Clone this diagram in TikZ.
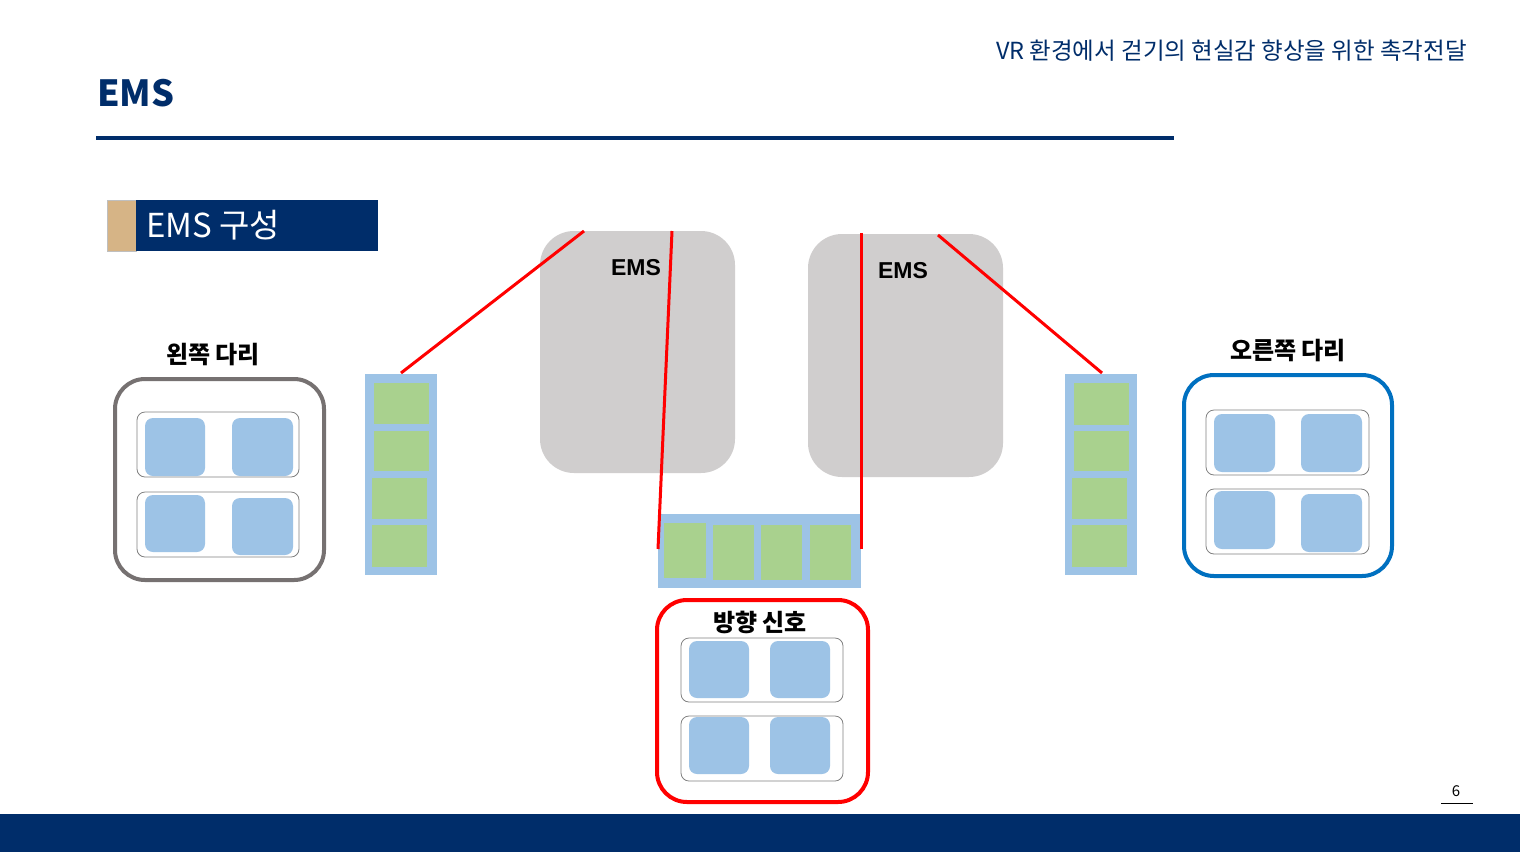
\documentclass[tikz,border=0pt]{standalone}
\usepackage{fontspec}
\setmainfont{Noto Sans CJK KR}
\newfontfamily\arialf{Liberation Sans}
\definecolor{navy}{RGB}{0,45,106}
\definecolor{tan}{RGB}{214,180,134}
\definecolor{lblue}{RGB}{157,195,230}
\definecolor{lgreen}{RGB}{169,209,142}
\definecolor{emsgray}{RGB}{208,206,206}
\definecolor{leggray}{RGB}{118,113,113}
\definecolor{legblue}{RGB}{0,112,192}
\definecolor{innergray}{RGB}{128,128,128}
\tikzset{
  wh/.style 2 args={minimum width=#1pt, minimum height=#2pt},
  box/.style={anchor=north west, inner sep=0pt, outer sep=0pt},
  strip/.style={box, fill=lblue},
  pad/.style={box, fill=lgreen},
  sq/.style={box, fill=lblue, rounded corners=8pt},
  inner/.style={box, draw=innergray, line width=0.8pt, rounded corners=8pt},
  emsbox/.style={box, fill=emsgray, rounded corners=34pt},
  leg/.style={box, line width=4pt, rounded corners=30pt},
  wire/.style={red, line width=3pt},
  lbl/.style={font=\bfseries\fontsize{24}{26}\selectfont, text=black},
  emslbl/.style={font=\arialf\bfseries\fontsize{23}{25}\selectfont, text=black}
}
\begin{document}
\begin{tikzpicture}[x=1pt,y=-1pt]
\useasboundingbox (0,0) rectangle (1520,852);
\fill[white] (0,0) rectangle (1520,852);
% header
\node[anchor=base west, inner sep=0pt, text=navy, font=\bfseries\fontsize{36}{40}\selectfont] (title) at (97,106) {EMS};
\draw[navy, line width=4pt] (96,138) coordinate (hl1) -- (1174,138) coordinate (hl2);
\node[anchor=base east, inner sep=0pt, text=navy, font=\fontsize{23.5}{26}\selectfont] (sub) at (1467,59) {VR 환경에서 걷기의 현실감 향상을 위한 촉각전달};
% footer
\fill[navy] (0,814) rectangle (1520,852);
\node[anchor=base, inner sep=0pt, font=\fontsize{15}{17}\selectfont] (pg) at (1456,796) {6};
\draw[black, line width=0.8pt] (1441,803) coordinate (u1) -- (1473,803) coordinate (u2);
% section label
\node[box, fill=tan, draw=lightgray, line width=0.6pt, wh={29}{51}] (tanbox) at (107,200) {};
\node[box, fill=navy, wh={242}{51}] (secbox) at (136,200) {};
\node[anchor=west, inner sep=0pt, text=white, font=\fontsize{33}{36}\selectfont] (sectxt) at (146,225.5) {EMS 구성};
% EMS gray boxes
\node[emsbox, wh={195}{242}] (ems1) at (540,231) {};
\node[emsbox, wh={195}{243}] (ems2) at (808,234) {};
\node[emslbl] (ems1t) at (636,268) {EMS};
\node[emslbl] (ems2t) at (903,271) {EMS};
% left strip
\node[strip, wh={72}{201}] (ls) at (365,374) {};
\node[pad, wh={55}{41}] (ls1) at (374,383) {};
\node[pad, wh={55}{40}] (ls2) at (374,431) {};
\node[pad, wh={55}{41}] (ls3) at (372,478) {};
\node[pad, wh={55}{42}] (ls4) at (372,525) {};
% right strip
\node[strip, wh={72}{201}] (rs) at (1065,374) {};
\node[pad, wh={55}{42}] (rs1) at (1074,383) {};
\node[pad, wh={55}{40}] (rs2) at (1074,431) {};
\node[pad, wh={55}{41}] (rs3) at (1072,478) {};
\node[pad, wh={55}{42}] (rs4) at (1072,525) {};
% bottom strip
\node[strip, wh={203}{74}] (bs) at (658,514) {};
\node[pad, wh={42}{55}] (bs1) at (664,523) {};
\node[pad, wh={41}{55}] (bs2) at (713,525) {};
\node[pad, wh={41}{55}] (bs3) at (761,525) {};
\node[pad, wh={41}{55}] (bs4) at (810,525) {};
% left leg
\node[lbl] (lleg) at (213,355) {왼쪽 다리};
\node[leg, draw=leggray, wh={209}{201}] (lbox) at (115,379) {};
\node[inner, wh={162}{65}] (li1) at (137,412) {};
\node[inner, wh={162}{65}] (li2) at (137,492) {};
\node[sq, wh={60}{58}] (lq1) at (145,418) {};
\node[sq, wh={61}{58}] (lq2) at (232,418) {};
\node[sq, wh={60}{57}] (lq3) at (145,495) {};
\node[sq, wh={61}{57}] (lq4) at (232,498) {};
% right leg
\node[lbl] (rleg) at (1288,351) {오른쪽 다리};
\node[leg, draw=legblue, wh={208}{201}] (rbox) at (1184,375) {};
\node[inner, wh={163}{65}] (ri1) at (1206,410) {};
\node[inner, wh={163}{65}] (ri2) at (1206,489) {};
\node[sq, wh={61}{58}] (rq1) at (1214,414) {};
\node[sq, wh={61}{58}] (rq2) at (1301,414) {};
\node[sq, wh={61}{58}] (rq3) at (1214,491) {};
\node[sq, wh={61}{58}] (rq4) at (1301,494) {};
% direction signal
\node[leg, draw=red, wh={211}{202}] (dbox) at (657,600) {};
\node[lbl] (dlbl) at (760,622) {방향 신호};
\node[inner, wh={162}{64}] (di1) at (681,638) {};
\node[inner, wh={162}{65}] (di2) at (681,716) {};
\node[sq, wh={60}{57}] (dq1) at (689,641) {};
\node[sq, wh={60}{57}] (dq2) at (770,641) {};
\node[sq, wh={60}{57}] (dq3) at (689,717) {};
\node[sq, wh={60}{57}] (dq4) at (770,717) {};
% wires
\coordinate (w1a) at (584,231);
\coordinate (w2a) at (672,231);
\coordinate (w3a) at (861,233);
\coordinate (w4a) at (938,235);
\coordinate (w1b) at (401,373);
\coordinate (w2b) at (658,549);
\coordinate (w3b) at (861,549);
\coordinate (w4b) at (1102,373);
\draw[wire] (w1a) -- (w1b);
\draw[wire] (w2a) -- (w2b);
\draw[wire] (w3a) -- (w3b);
\draw[wire] (w4a) -- (w4b);
\end{tikzpicture}
\end{document}
